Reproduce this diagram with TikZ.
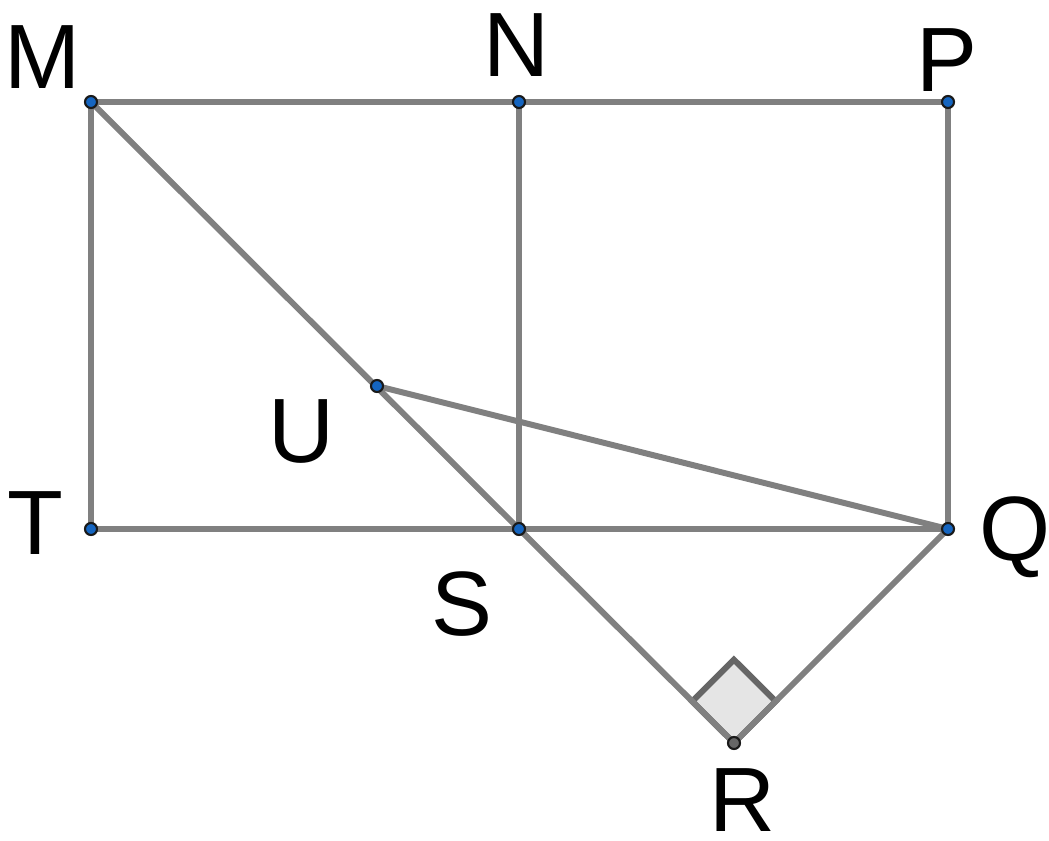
\documentclass[tikz,border=0pt]{standalone}
\usepackage{fontspec}
\setmainfont{Liberation Sans}
\usepackage{xcolor}
\usepackage{tikz}
\usetikzlibrary{calc}

\definecolor{segcol}{HTML}{808080}
\definecolor{markcol}{HTML}{666666}
\definecolor{markfill}{HTML}{E5E5E5}
\definecolor{ptblue}{HTML}{1565C0}

\begin{document}
\begin{tikzpicture}[
    x=1cm, y=1cm,
    seg/.style={
      draw=segcol,
      line width=1.7pt
    },
    anglemark/.style={
      draw=markcol,
      fill=markfill,
      line width=1.7pt,
      line join=miter
    },
    pt/.style={
      circle,
      draw=black!90,
      fill=ptblue,
      line width=0.6pt,
      inner sep=0pt,
      minimum size=1.2mm
    },
    ptdark/.style={
      pt,
      fill=markcol
    },
    lbl/.style={
      font=\fontsize{26}{30}\selectfont,
      inner sep=0pt
    }
  ]

    \useasboundingbox (0,0) rectangle (10.49,-8.41);

    % Points
    \coordinate (M) at (0.91,-1.02);
    \coordinate (N) at (5.19,-1.02);
    \coordinate (P) at (9.48,-1.02);
    \coordinate (T) at (0.91,-5.29);
    \coordinate (S) at (5.19,-5.29);
    \coordinate (Q) at (9.48,-5.29);
    \coordinate (R) at (7.34,-7.43);
    \coordinate (U) at (3.77,-3.86);

    % Right angle at R
    \coordinate (Rs) at ($(R)!0.59cm!(S)$);
    \coordinate (Rq) at ($(R)!0.59cm!(Q)$);
    \draw[anglemark] (R) -- (Rs) -- ($(Rs)+(Rq)-(R)$) -- (Rq) -- cycle;

    % Segments
    \draw[seg] (M) -- (P);
    \draw[seg] (T) -- (Q);
    \draw[seg] (M) -- (T);
    \draw[seg] (N) -- (S);
    \draw[seg] (P) -- (Q);
    \draw[seg] (M) -- (S);
    \draw[seg] (S) -- (R);
    \draw[seg] (R) -- (Q);
    \draw[seg] (U) -- (Q);

    % Dots
    \foreach \p in {M,N,P,T,S,Q,U}
      \node[pt] (d\p) at (\p) {};
    \node[ptdark] (dR) at (R) {};

    % Labels
    \node[lbl] (lM) at (0.43,-0.57) {M};
    \node[lbl] (lN) at (5.16,-0.45) {N};
    \node[lbl] (lP) at (9.47,-0.60) {P};
    \node[lbl] (lT) at (0.35,-5.23) {T};
    \node[lbl] (lQ) at (10.15,-5.37) {Q};
    \node[lbl] (lS) at (4.62,-6.04) {S};
    \node[lbl] (lU) at (3.01,-4.32) {U};
    \node[lbl] (lR) at (7.42,-8.00) {R};

  \end{tikzpicture}
\end{document}
